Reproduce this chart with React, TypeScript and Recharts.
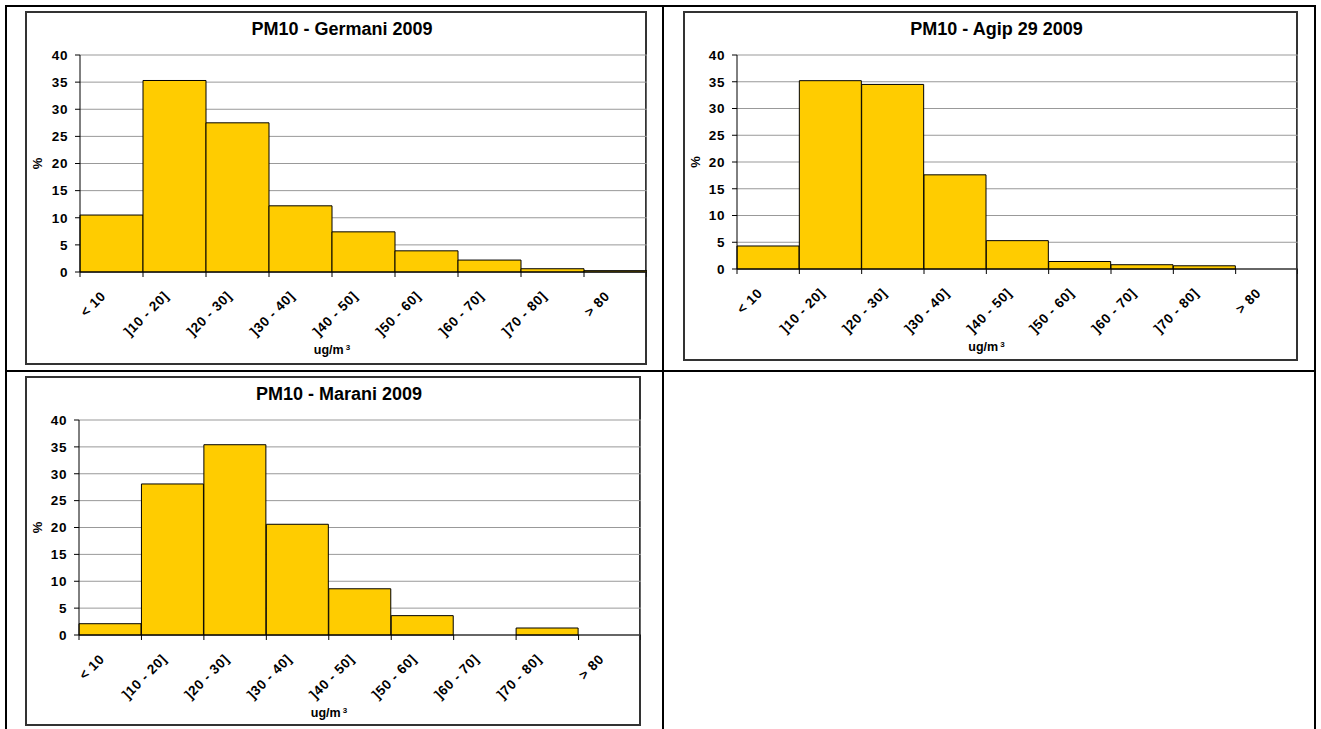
import { BarChart, Bar, XAxis, YAxis, CartesianGrid, Label } from 'recharts';

const categories = ['< 10', ']10 - 20]', ']20 - 30]', ']30 - 40]', ']40 - 50]', ']50 - 60]', ']60 - 70]', ']70 - 80]', '> 80'];
const germani = [10.5, 35.3, 27.5, 12.2, 7.4, 3.9, 2.2, 0.6, 0.25];
const agip = [4.3, 35.2, 34.5, 17.6, 5.3, 1.4, 0.8, 0.6, 0];
const marani = [2.1, 28.1, 35.4, 20.6, 8.6, 3.6, 0, 1.3, 0];
const yTicks = [0, 5, 10, 15, 20, 25, 30, 35, 40];

const FONT = '"Liberation Sans", Arial, sans-serif';

interface PanelProps {
  title: string;
  values: number[];
  left: number;
  top: number;
  width: number;
  height: number;
  yAxisWidth: number;
  plotTop: number;
  xAxisHeight: number;
}

const Panel = ({ title, values, left, top, width, height, yAxisWidth, plotTop, xAxisHeight }: PanelProps) => {
  const data = categories.map((cat, i) => ({ cat, value: values[i] }));
  const band = (width - yAxisWidth) / categories.length;
  const axisY = height - xAxisHeight;

  const XTick = (props: any) => {
    const { x, payload, index } = props;
    const tx = x - 5;
    const ty = axisY + 25;
    return (
      <g>
        <line x1={x - band / 2} x2={x - band / 2} y1={axisY} y2={axisY + 5} stroke="#000" />
        {index === categories.length - 1 && (
          <line x1={x + band / 2} x2={x + band / 2} y1={axisY} y2={axisY + 5} stroke="#000" />
        )}
        <text
          x={tx}
          y={ty}
          textAnchor="end"
          transform={`rotate(-45 ${tx} ${ty})`}
          fontSize={13.5}
          letterSpacing={0.6}
          fontWeight="bold"
          fontFamily={FONT}
          fill="#000"
        >
          {payload.value}
        </text>
      </g>
    );
  };

  return (
    <div
      style={{
        position: 'absolute',
        left,
        top,
        width,
        height,
        border: '2px solid #333',
        boxSizing: 'border-box',
        background: '#fff',
      }}
    >
      <div style={{ position: 'absolute', left: -2, top: -2, width, height }}>
        <BarChart
          width={width}
          height={height}
          data={data}
          margin={{ top: plotTop, right: 0, bottom: 0, left: 0 }}
          barCategoryGap={0}
        >
          <CartesianGrid
            stroke="#999"
            verticalCoordinatesGenerator={({ offset }: any) => [offset.left + offset.width]}
          />
          <XAxis
            dataKey="cat"
            interval={0}
            height={xAxisHeight}
            tickLine={false}
            axisLine={{ stroke: '#000' }}
            tick={<XTick />}
          >
            <Label
              content={({ viewBox }: any) => (
                <text
                  x={width / 2 - 4}
                  y={viewBox.y + 82}
                  textAnchor="middle"
                  fontSize={12.5}
                  fontWeight="bold"
                  fontFamily={FONT}
                  fill="#000"
                >
                  <tspan>ug/m</tspan>
                  <tspan dx={2} dy={-4} fontSize={8}>3</tspan>
                </text>
              )}
            />
          </XAxis>
          <YAxis
            type="number"
            domain={[0, 40]}
            ticks={yTicks}
            width={yAxisWidth}
            tickSize={5}
            tickMargin={7}
            axisLine={{ stroke: '#000' }}
            tickLine={{ stroke: '#000' }}
            tick={{ fontSize: 13.5, letterSpacing: 0.6, fontWeight: 'bold', fill: '#000', fontFamily: FONT }}
          >
            <Label
              content={({ viewBox }: any) => {
                const lx = 17;
                const ly = viewBox.y + viewBox.height / 2;
                return (
                  <text
                    x={lx}
                    y={ly}
                    textAnchor="middle"
                    transform={`rotate(-90 ${lx} ${ly})`}
                    fontSize={13}
                    fontWeight="bold"
                    fontFamily={FONT}
                    fill="#000"
                  >
                    %
                  </text>
                );
              }}
            />
          </YAxis>
          <Bar dataKey="value" fill="#FFCC00" stroke="#000" strokeWidth={1} isAnimationActive={false} />
        </BarChart>
        <div
          style={{
            position: 'absolute',
            left: 6,
            top: 9,
            width,
            textAlign: 'center',
            fontFamily: FONT,
            fontWeight: 'bold',
            fontSize: 18,
            lineHeight: '18px',
            color: '#000',
            pointerEvents: 'none',
          }}
        >
          {title}
        </div>
      </div>
    </div>
  );
};

const line = (left: number, top: number, width: number, height: number) => (
  <div style={{ position: 'absolute', left, top, width, height, background: '#000' }} />
);

export default function App() {
  return (
    <div style={{ position: 'absolute', left: 0, top: 0, width: 1321, height: 729, background: '#fff', overflow: 'hidden' }}>
      {line(5, 5, 1311, 2)}
      {line(5, 5, 2, 726)}
      {line(1314, 5, 2, 726)}
      {line(662, 5, 2, 726)}
      {line(5, 370, 1311, 2)}
      {line(5, 729, 1311, 2)}
      <Panel title="PM10 - Germani 2009" values={germani} left={25} top={11} width={622} height={354} yAxisWidth={55} plotTop={44} xAxisHeight={93} />
      <Panel title="PM10 - Agip 29 2009" values={agip} left={683} top={11} width={615} height={350} yAxisWidth={54} plotTop={44} xAxisHeight={92} />
      <Panel title="PM10 - Marani 2009" values={marani} left={25} top={376} width={616} height={350} yAxisWidth={54} plotTop={44} xAxisHeight={91} />
    </div>
  );
}
